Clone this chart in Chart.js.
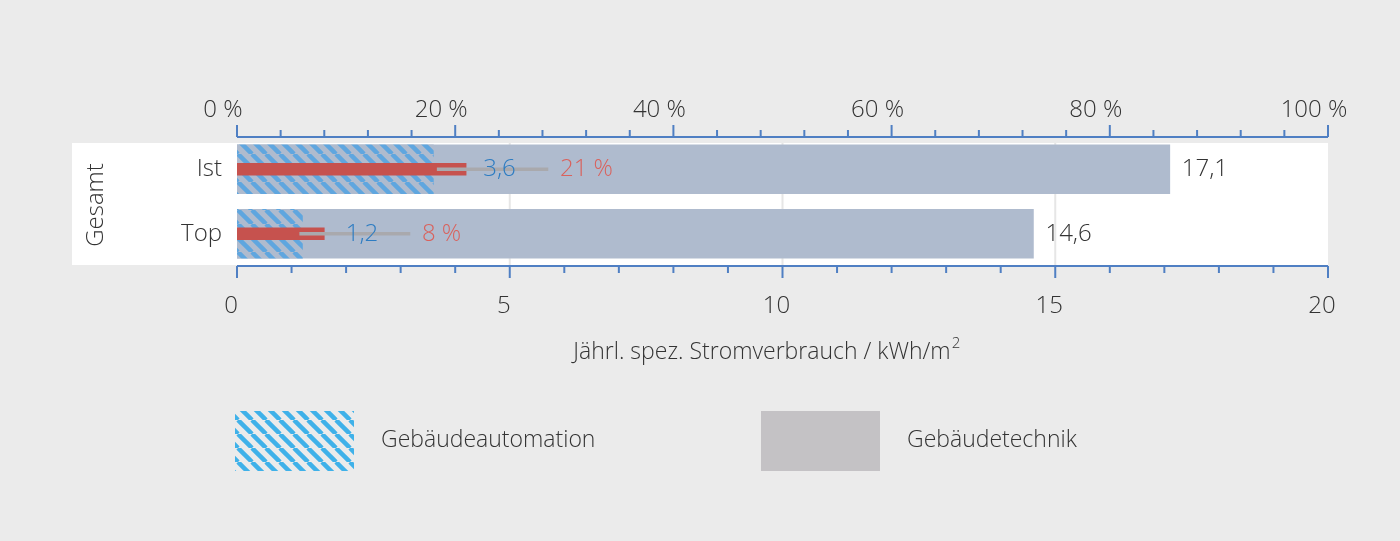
<!DOCTYPE html>
<html><head><meta charset="utf-8">
<script src="https://cdn.jsdelivr.net/npm/chart.js@4"></script>
<style>html,body{margin:0;background:#ebebeb}#w{width:1400px;height:541px}</style>
</head><body><div id="w"><canvas id="c" width="1400" height="541"></canvas></div>
<script>
const categories=['Ist','Top'];
const technik=[17.1,14.6];
const automation=[3.6,1.2];
const automationLabels=['3,6','1,2'];
const technikLabels=['17,1','14,6'];
const share=[21,8];
const shareLabels=['21 %','8 %'];
const whisker=[[3.67,5.7],[1.15,3.17]];
const bottomTicks=[0,5,10,15,20];
const topTicks=[0,20,40,60,80,100];
const FONT='"Open Sans"';
const BLUE='#4f7fc3';

function hatch(bg,fg){
  const p=document.createElement('canvas');p.width=14;p.height=14;
  const g=p.getContext('2d');
  if(bg){g.fillStyle=bg;g.fillRect(0,0,14,14);}
  g.strokeStyle=fg;g.lineWidth=4.5;
  for(let o=-14;o<=28;o+=14){g.beginPath();g.moveTo(o,0);g.lineTo(o+14,14);g.stroke();}
  return p;
}
const ctx0=document.getElementById('c').getContext('2d');
const barPat=ctx0.createPattern(hatch('#afbbce','#5fa6df'),'repeat');
const legPat=ctx0.createPattern(hatch('#ebebeb','#3fb1e9'),'repeat');

const deco={id:'deco',
 beforeDatasetsDraw(ch){
  const c=ch.ctx,a=ch.chartArea,x=ch.scales.x;
  c.save();c.fillStyle='#fff';c.fillRect(72,143,a.right-72,a.bottom-143-1);
  c.fillStyle='#e6e6e6';
  [5,10,15].forEach(v=>{c.fillRect(x.getPixelForValue(v)-1,143,2,a.bottom-143);});
  c.restore();
 },
 afterDatasetsDraw(ch){
  const c=ch.ctx,a=ch.chartArea,x=ch.scales.x,x2=ch.scales.x2;
  c.save();
  c.strokeStyle=BLUE;c.lineWidth=2;
  // axes lines
  c.beginPath();c.moveTo(a.left,a.top);c.lineTo(a.right,a.top);c.moveTo(a.left,a.bottom);c.lineTo(a.right,a.bottom);c.stroke();
  for(let v=0;v<=20;v++){const px=x.getPixelForValue(v);const L=v%5===0?12:7;c.beginPath();c.moveTo(px,a.bottom);c.lineTo(px,a.bottom+L);c.stroke();}
  for(let v=0;v<=100;v+=4){const px=x2.getPixelForValue(v);const L=v%20===0?12:7;c.beginPath();c.moveTo(px,a.top);c.lineTo(px,a.top-L);c.stroke();}
  c.fillStyle='#333';c.font='300 24px '+FONT;c.textAlign='center';c.textBaseline='middle';
  bottomTicks.forEach(v=>c.fillText(String(v),x.getPixelForValue(v)-6,306));
  topTicks.forEach(v=>c.fillText(v+' %',x2.getPixelForValue(v)-14,110));
  c.font='300 23px '+FONT;
  c.fillText('Jährl. spez. Stromverbrauch / kWh/m',762,352);
  const tw=c.measureText('Jährl. spez. Stromverbrauch / kWh/m').width;
  c.font='300 15px '+FONT;c.textAlign='left';c.fillText('2',762+tw/2+1,344);
  // categories
  c.font='300 24px '+FONT;c.textAlign='right';
  const y=ch.scales.y;
  categories.forEach((k,i)=>{const py=y.getPixelForValue(i);c.fillText(k,222,py);
   c.textAlign='left';
   c.fillStyle='#333';c.fillText(technikLabels[i],x.getPixelForValue(technik[i])+12,py);
   c.fillStyle='#2d7cc2';c.fillText(automationLabels[i],x.getPixelForValue(whisker[i][0])+46,py);
   c.fillStyle='#d9625d';c.fillText(shareLabels[i],x.getPixelForValue(whisker[i][1])+12,py);
   c.fillStyle='#333';c.textAlign='right';});
  c.save();c.translate(96,205);c.rotate(-Math.PI/2);c.textAlign='center';c.fillText('Gesamt',0,0);c.restore();
  // legend
  c.fillStyle=legPat;c.fillRect(235,411,119,60);
  c.fillStyle='#c4c2c5';c.fillRect(761,411,119,60);
  c.fillStyle='#333';c.textAlign='left';c.font='300 23px '+FONT;
  c.fillText('Gebäudeautomation',381,440);c.fillText('Gebäudetechnik',907,440);
  c.restore();
 }};

new Chart(document.getElementById('c'),{
 type:'bar',
 data:{labels:categories,datasets:[
  {label:'Gebäudetechnik',data:technik,backgroundColor:'#afbbce',barThickness:49,grouped:false,order:4,xAxisID:'x'},
  {label:'Gebäudeautomation',data:automation,backgroundColor:barPat,barThickness:49,grouped:false,order:3,xAxisID:'x'},
  {label:'Anteil',data:share,backgroundColor:'#c6524e',barThickness:12,grouped:false,order:2,xAxisID:'x2'},
  {label:'w',data:whisker,backgroundColor:'#a9a9ad',barThickness:3,grouped:false,order:1,xAxisID:'x'}
 ]},
 options:{indexAxis:'y',responsive:false,animation:false,
  layout:{padding:{left:0,right:72,top:0,bottom:0}},
  plugins:{legend:{display:false},tooltip:{enabled:false}},
  scales:{
   x:{position:'bottom',min:0,max:20,ticks:{display:false},grid:{display:false},border:{display:false},afterFit(s){s.height=275;}},
   x2:{position:'top',min:0,max:100,ticks:{display:false},grid:{display:false},border:{display:false},afterFit(s){s.height=137;}},
   y:{ticks:{display:false},grid:{display:false},border:{display:false},afterFit(s){s.width=237;},categoryPercentage:1,barPercentage:1}
  }},
 plugins:[deco]
});
</script></body></html>
